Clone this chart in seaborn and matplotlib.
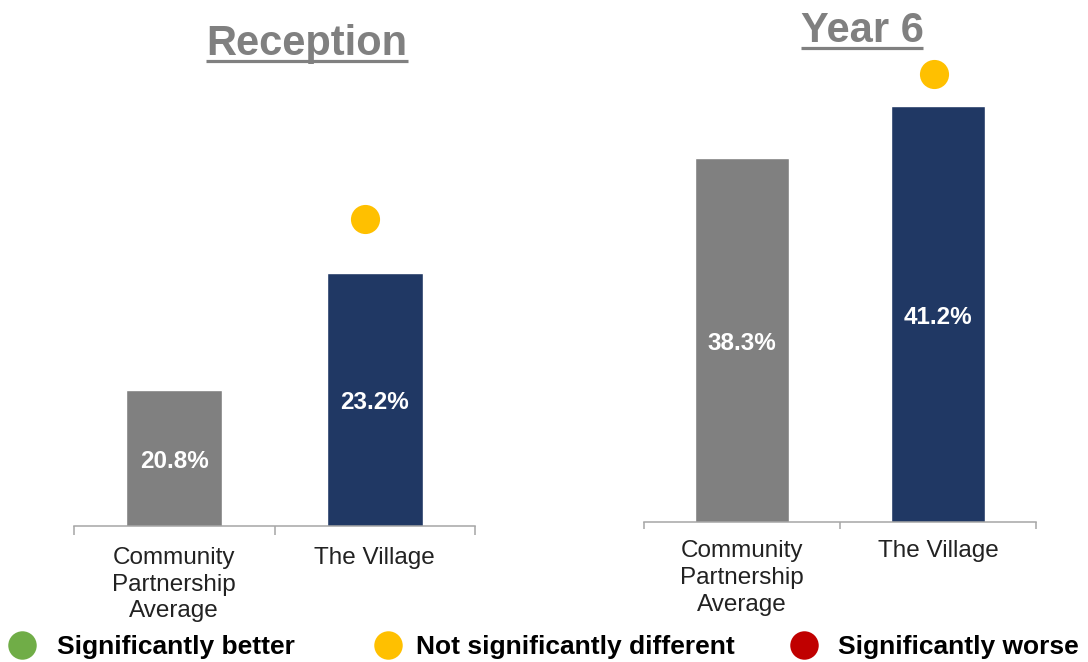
import matplotlib
matplotlib.use("Agg")
import matplotlib.pyplot as plt
from matplotlib.lines import Line2D
import seaborn as sns
import pandas as pd

# data
categories = ["Community\nPartnership\nAverage", "The Village"]
panel_titles = ["Reception", "Year 6"]
reception_values = [20.8, 23.2]
year6_values = [38.3, 41.2]
# significance dot level (same units as the bars)
dot_levels = [24.3, 43.0]
dot_colours = ["#FFC000", "#FFC000"]

legend_labels = ["Significantly better", "Not significantly different", "Significantly worse"]
legend_colours = ["#70AD47", "#FFC000", "#C00000"]

bar_colours = ["#808080", "#203864"]

sns.set_style("white")
plt.rcParams["font.family"] = ["Liberation Sans", "DejaVu Sans"]

W, H = 1088, 662
fig = plt.figure(figsize=(W / 100, H / 100), dpi=100)


def px_axes(left, right, bottom, top):
    return fig.add_axes([left / W, 1 - bottom / H, (right - left) / W, (bottom - top) / H])


# (left, right, baseline, top) in pixels, y range, tick length, label pad
panels = [
    dict(box=(74, 475, 526, 100), ylim=(18, 26.74), tick=6.5, pad=15, vals=reception_values,
         title_xy=(307, 55), dot_dx=-0.05),
    dict(box=(644, 1036, 522, 60), ylim=(18, 43.77), tick=4.8, pad=13, vals=year6_values,
         title_xy=(862, 42), dot_dx=-0.02),
]

renderer = fig.canvas.get_renderer()

for i, p in enumerate(panels):
    ax = px_axes(*p["box"])
    df = pd.DataFrame({"cat": categories, "val": p["vals"]})
    sns.barplot(data=df, x="cat", y="val", hue="cat", palette=bar_colours,
                width=0.48, legend=False, ax=ax, saturation=1)
    ax.set_xlim(-0.5, 1.5)
    ax.set_ylim(*p["ylim"])
    ax.set_xlabel("")
    ax.set_ylabel("")
    ax.set_yticks([])
    for s in ["top", "left", "right"]:
        ax.spines[s].set_visible(False)
    ax.spines["bottom"].set_color("#A6A6A6")
    ax.spines["bottom"].set_linewidth(1.1)
    ax.set_xticks([0, 1])
    ax.set_xticklabels(categories, fontsize=17.5, color="#222222", linespacing=1.28)
    ax.tick_params(axis="x", which="major", length=0, pad=p["pad"])
    ax.set_xticks([-0.5, 0.5, 1.5], minor=True)
    ax.tick_params(axis="x", which="minor", length=p["tick"], width=1.1, color="#A6A6A6",
                   direction="out", bottom=True)

    # value labels in the middle of each bar
    lo = p["ylim"][0]
    for j, v in enumerate(p["vals"]):
        ax.annotate(f"{v:.1f}%", (j, (lo + v) / 2), xytext=(0, -2.5),
                    textcoords="offset points", ha="center", va="center",
                    color="white", fontsize=17.5, fontweight="bold")

    # significance dot above The Village
    ax.scatter([1 + p["dot_dx"]], [dot_levels[i]], s=440, color=dot_colours[i],
               linewidths=0, zorder=5, clip_on=False)

    # underlined title
    tx, ty = p["title_xy"]
    t = fig.text(tx / W, 1 - ty / H, panel_titles[i], ha="center", va="baseline",
                 fontsize=30, fontweight="bold", color="#808080")
    bb = t.get_window_extent(renderer)
    uy = 1 - (ty + 6) / H
    fig.add_artist(Line2D([bb.x0 / W, bb.x1 / W], [uy, uy], transform=fig.transFigure,
                          color="#808080", linewidth=2.3, solid_capstyle="butt"))

# legend strip along the bottom
leg = fig.add_axes([0, 0, 1, 1], facecolor="none")
leg.set_xlim(0, W)
leg.set_ylim(H, 0)
leg.axis("off")
dot_x = [22, 388, 804]
text_x = [57, 416, 838]
for k, lab in enumerate(legend_labels):
    leg.scatter([dot_x[k]], [645], s=420, color=legend_colours[k], linewidths=0)
    leg.text(text_x[k], 654, lab, ha="left", va="baseline", fontsize=19,
             fontweight="bold", color="black")

fig.savefig("out.png", dpi=100)
